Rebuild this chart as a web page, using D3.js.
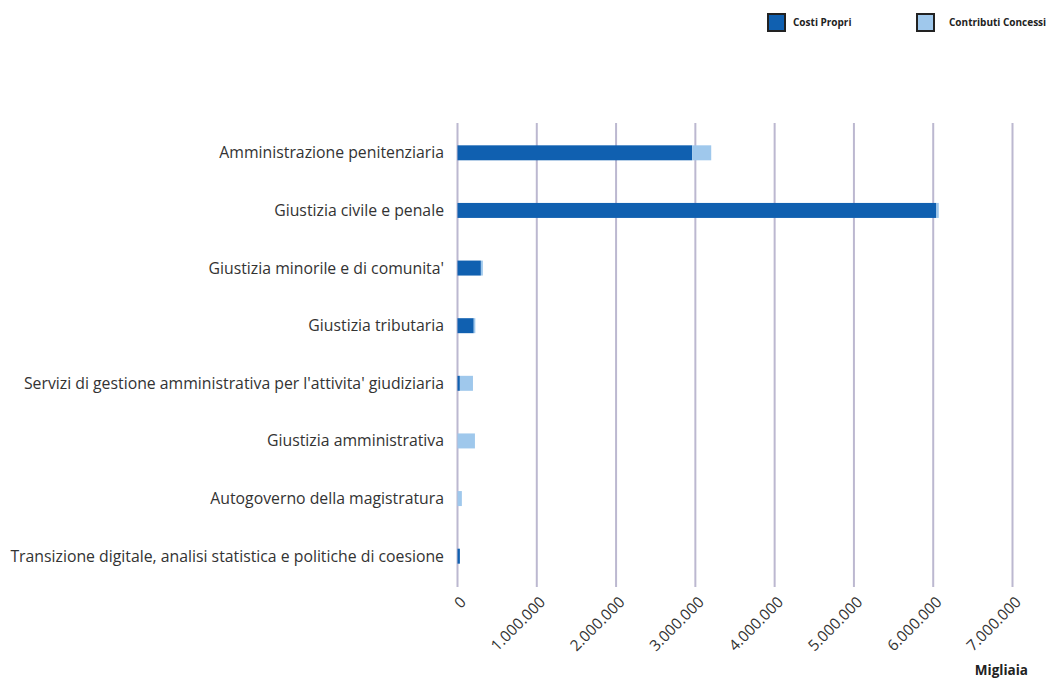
<!DOCTYPE html>
<html><head><meta charset="utf-8">
<script src="https://cdn.jsdelivr.net/npm/d3@7"></script>
<style>body{margin:0;background:#fff;} svg{display:block;}</style>
</head><body>
<script>
const categories = [
  "Amministrazione penitenziaria",
  "Giustizia civile e penale",
  "Giustizia minorile e di comunita'",
  "Giustizia tributaria",
  "Servizi di gestione amministrativa per l'attivita' giudiziaria",
  "Giustizia amministrativa",
  "Autogoverno della magistratura",
  "Transizione digitale, analisi statistica e politiche di coesione"
];
const costiPropri = [2960000, 6040000, 295000, 205000, 30000, 0, 0, 30000];
const contributiConcessi = [240000, 30000, 25000, 20000, 165000, 220000, 55000, 0];
const seriesNames = ["Costi Propri", "Contributi Concessi"];
const tickValues = [0, 1000000, 2000000, 3000000, 4000000, 5000000, 6000000, 7000000];
const axisTitle = "Migliaia";

const W = 1046, H = 679;
const colors = ["#1060b0", "#9fc8ec"];
const svg = d3.select("body").append("svg").attr("width", W).attr("height", H);

const x = d3.scaleLinear().domain([0, 7000000]).range([457.5, 1012.5]);
const y = d3.scaleBand().domain(categories).range([124, 585]).paddingInner(0.74).paddingOuter(0.37);

// grid lines
svg.append("g").selectAll("line").data(tickValues).join("line")
  .attr("x1", d => x(d)).attr("x2", d => x(d))
  .attr("y1", 123).attr("y2", 587)
  .attr("stroke", "#bcb8d0").attr("stroke-width", 2);

// bars
const fmt = d3.formatLocale({decimal: ",", thousands: ".", grouping: [3], currency: ["€",""]}).format(",d");
const rows = categories.map((c, i) => ({c, a: costiPropri[i], b: contributiConcessi[i]}));
const gb = svg.append("g");
gb.selectAll("rect.a").data(rows).join("rect").attr("class","a")
  .attr("x", x(0)).attr("y", d => y(d.c)).attr("height", y.bandwidth())
  .attr("width", d => x(d.a) - x(0)).attr("fill", colors[0]);
gb.selectAll("rect.b").data(rows).join("rect").attr("class","b")
  .attr("x", d => x(d.a)).attr("y", d => y(d.c)).attr("height", y.bandwidth())
  .attr("width", d => x(d.a + d.b) - x(d.a)).attr("fill", colors[1]);

// category labels
svg.append("g").selectAll("text").data(categories).join("text")
  .attr("x", 444).attr("y", d => y(d) + y.bandwidth()/2)
  .attr("dy", "0.35em").attr("text-anchor", "end")
  .attr("font-family", "Open Sans").attr("font-size", 15.8).attr("fill", "#333")
  .text(d => d);

// x axis tick labels
const ax = svg.append("g").attr("transform", "translate(0,588)")
  .call(d3.axisBottom(x).tickValues(tickValues).tickFormat(fmt).tickSize(0).tickPadding(0));
ax.select(".domain").remove();
ax.selectAll("text")
  .attr("font-family", "Open Sans").attr("font-size", 15.3).attr("fill", "#333")
  .attr("text-anchor", "end")
  .attr("x", 0).attr("y", 0).attr("dy", 0)
  .attr("transform", "translate(9,15) rotate(-45)");

svg.append("text").attr("x", 1028).attr("y", 675).attr("text-anchor", "end")
  .attr("font-family", "Open Sans").attr("font-weight", "bold").attr("font-size", 13.5)
  .attr("fill", "#222").text(axisTitle);

// legend
const legX = [767, 916];
const legTextX = [793, 949];
const lg = svg.append("g").selectAll("g").data(seriesNames).join("g");
lg.append("rect").attr("x", (d, i) => legX[i] + 1).attr("y", 14).attr("width", 17).attr("height", 17)
  .attr("fill", (d, i) => colors[i]).attr("stroke", "#222").attr("stroke-width", 2);
lg.append("text").attr("x", (d, i) => legTextX[i]).attr("y", 22.5).attr("dy", "0.35em")
  .attr("font-family", "Open Sans").attr("font-weight", "bold").attr("font-size", 10)
  .attr("fill", "#222").text(d => d);
</script>
</body></html>
